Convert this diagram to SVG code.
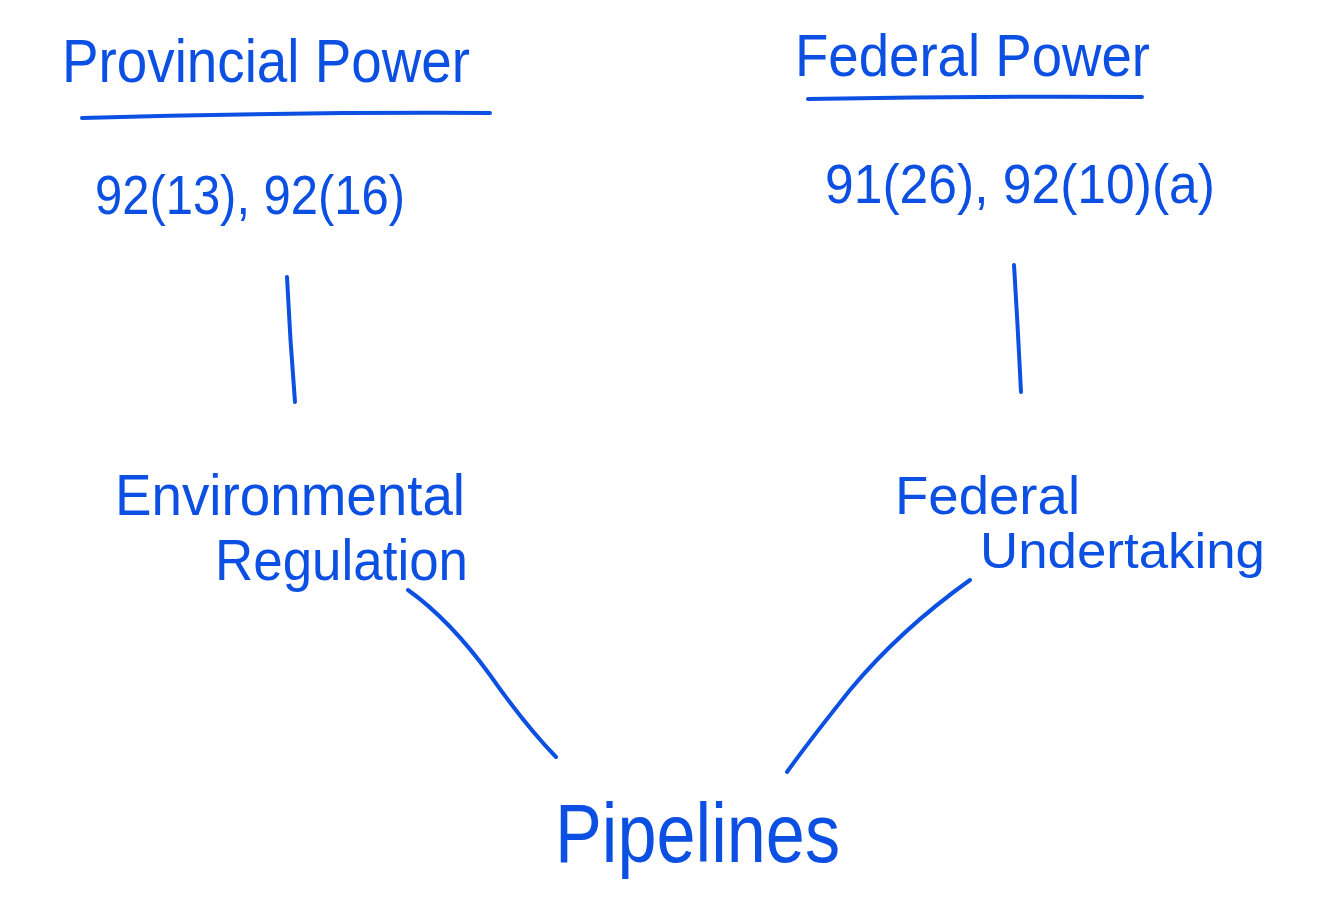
<svg xmlns="http://www.w3.org/2000/svg" width="1317" height="900" viewBox="0 0 1317 900">
<style>
.t{font-family:"Liberation Sans","DejaVu Sans",sans-serif;fill:#0c4fe3;}
.l{stroke:#0c4fe3;stroke-width:4;fill:none;stroke-linecap:round;}
</style>
<rect width="1317" height="900" fill="#ffffff"/>
<g id="provincial-power">
<text class="t" x="62" y="82" font-size="62" textLength="408" lengthAdjust="spacingAndGlyphs">Provincial Power</text>
<path class="l" d="M82 118 Q290 112 490 113"/>
</g>
<g id="federal-power">
<text class="t" x="795" y="76" font-size="60" textLength="355" lengthAdjust="spacingAndGlyphs">Federal Power</text>
<path class="l" d="M808 99 Q975 96 1142 97"/>
</g>
<g id="provincial-sections">
<text class="t" x="95" y="214" font-size="56" textLength="310" lengthAdjust="spacingAndGlyphs">92(13), 92(16)</text>
</g>
<g id="federal-sections">
<text class="t" x="825" y="203" font-size="56" textLength="390" lengthAdjust="spacingAndGlyphs">91(26), 92(10)(a)</text>
</g>
<g id="environmental-regulation">
<text class="t" x="115" y="515" font-size="58" textLength="350" lengthAdjust="spacingAndGlyphs">Environmental</text>
<text class="t" x="215" y="580" font-size="58" textLength="253" lengthAdjust="spacingAndGlyphs">Regulation</text>
</g>
<g id="federal-undertaking">
<text class="t" x="895" y="514" font-size="54" textLength="185" lengthAdjust="spacingAndGlyphs">Federal</text>
<text class="t" x="980" y="568" font-size="50" textLength="285" lengthAdjust="spacingAndGlyphs">Undertaking</text>
</g>
<g id="pipelines">
<text class="t" x="555" y="862" font-size="84" textLength="285" lengthAdjust="spacingAndGlyphs">Pipelines</text>
</g>
<g id="connectors">
<path class="l" d="M287 277 Q290 340 295 402"/>
<path class="l" d="M1014 265 Q1018 330 1021 392"/>
<path class="l" d="M408 590 Q450 620 490 675 Q525 725 556 757"/>
<path class="l" d="M970 580 Q900 630 850 690 Q810 740 787 772"/>
</g>
</svg>
